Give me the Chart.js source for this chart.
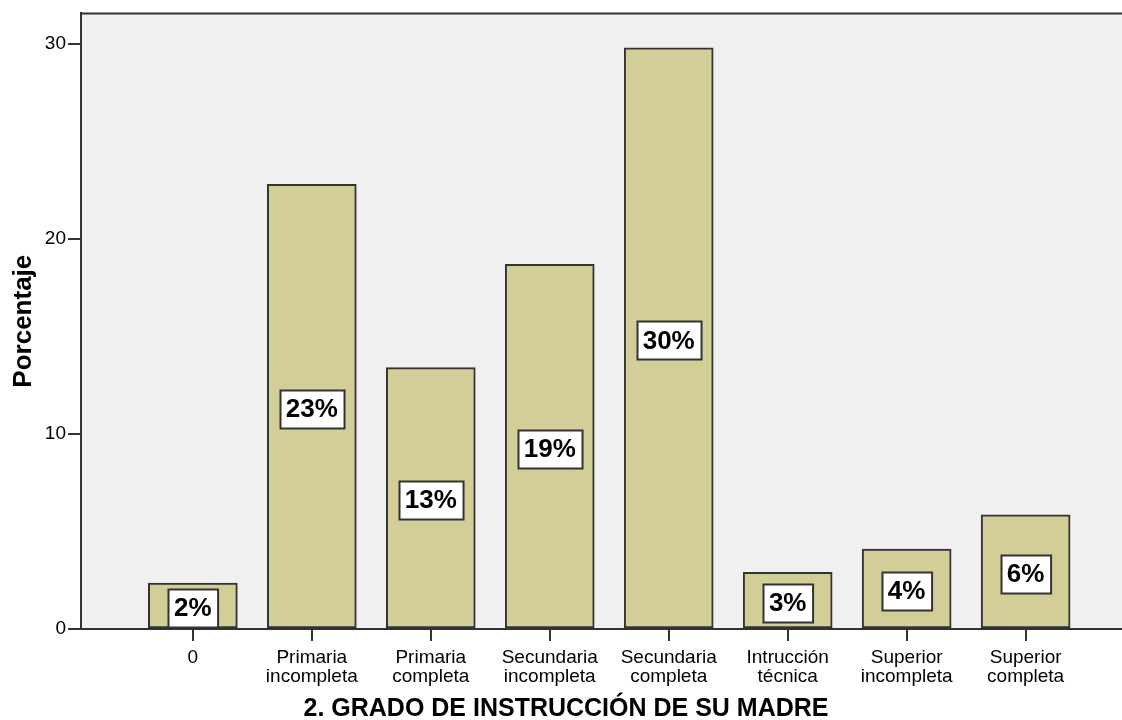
<!DOCTYPE html>
<html>
<head>
<meta charset="utf-8">
<script src="https://cdn.jsdelivr.net/npm/chart.js@4/dist/chart.umd.min.js"></script>
<style>
html,body{margin:0;padding:0;background:#fff;}
#wrap{width:1122px;height:720px;}
</style>
</head>
<body>
<div id="wrap"><canvas id="c" width="1122" height="720"></canvas></div>
<script>
const categories = [
  ["0"],
  ["Primaria", "incompleta"],
  ["Primaria", "completa"],
  ["Secundaria", "incompleta"],
  ["Secundaria", "completa"],
  ["Intrucción", "técnica"],
  ["Superior", "incompleta"],
  ["Superior", "completa"]
];
const percentValues = [2.36, 22.8, 13.4, 18.7, 29.8, 2.9, 4.1, 5.85];
const yTickValues = [0, 10, 20, 30];
const xTitle = "2. GRADO DE INSTRUCCIÓN DE SU MADRE";
const yTitle = "Porcentaje";

const FONT = "'Liberation Sans', Arial, sans-serif";

const bgPlugin = {
  id: 'bg',
  beforeDraw(chart) {
    const {ctx, chartArea: a} = chart;
    ctx.save();
    ctx.fillStyle = '#f0f0f0';
    ctx.fillRect(a.left, a.top, a.right - a.left, a.bottom - a.top);
    ctx.strokeStyle = '#333';
    ctx.lineWidth = 2;
    ctx.beginPath();
    ctx.moveTo(a.left - 1, a.top);
    ctx.lineTo(a.right, a.top);
    ctx.stroke();
    ctx.restore();
  },
  afterDraw(chart) {
    const {ctx} = chart;
    ctx.save();
    ctx.fillStyle = '#000';
    ctx.font = "bold 25px " + FONT;
    ctx.textAlign = 'center';
    ctx.textBaseline = 'alphabetic';
    ctx.fillText(xTitle, 566, 716);
    ctx.restore();
  }
};

const labelPlugin = {
  id: 'barLabels',
  afterDatasetsDraw(chart) {
    const {ctx} = chart;
    const meta = chart.getDatasetMeta(0);
    ctx.save();
    ctx.font = "bold 26px " + FONT;
    ctx.textAlign = 'center';
    ctx.textBaseline = 'middle';
    meta.data.forEach((bar, i) => {
      const txt = Math.round(percentValues[i]) + '%';
      const w = ctx.measureText(txt).width + 12;
      const h = 38;
      const cy = (bar.y + bar.base) / 2 + 2.5;
      const x0 = Math.round(bar.x - w / 2) + 0.5;
      const y0 = Math.round(cy - h / 2) + 0.5;
      ctx.fillStyle = '#ffffff';
      ctx.fillRect(x0, y0, w, h);
      ctx.strokeStyle = '#333';
      ctx.lineWidth = 2;
      ctx.strokeRect(x0, y0, w, h);
      ctx.fillStyle = '#000';
      ctx.fillText(txt, bar.x, cy + 1);
    });
    ctx.restore();
  }
};

new Chart(document.getElementById('c'), {
  type: 'bar',
  data: {
    datasets: [{
      data: percentValues.map((v, i) => ({x: i, y: v})),
      backgroundColor: 'rgb(211,206,151)',
      borderColor: '#333',
      borderWidth: 2,
      borderSkipped: false,
      barThickness: 89
    }]
  },
  options: {
    responsive: false,
    animation: false,
    devicePixelRatio: 1,
    layout: {padding: {top: 13, right: 0, left: 0, bottom: 0}},
    plugins: {legend: {display: false}, tooltip: {enabled: false}},
    scales: {
      x: {
        type: 'linear',
        min: -0.94,
        max: 7.81,
        offset: false,
        afterBuildTicks(scale) { scale.ticks = categories.map((c, i) => ({value: i})); },
        afterFit(scale) { scale.height = 91; },
        ticks: {
          callback: (v) => categories[v],
          color: '#000',
          font: {family: FONT, size: 19, lineHeight: 1.0},
          padding: 7,
          maxRotation: 0,
          autoSkip: false
        },
        grid: {display: true, offset: false, drawOnChartArea: false, drawTicks: true, tickLength: 12, color: '#333', lineWidth: 2},
        border: {display: true, color: '#333', width: 2},
        title: {display: false}
      },
      y: {
        min: 0,
        max: 31.56,
        afterBuildTicks(scale) { scale.ticks = yTickValues.map(v => ({value: v})); },
        afterFit(scale) { scale.width = 81; },
        ticks: {
          color: '#000',
          font: {family: FONT, size: 19},
          padding: 2
        },
        grid: {display: true, offset: false, drawOnChartArea: false, drawTicks: true, tickLength: 13, color: '#333', lineWidth: 2},
        border: {display: true, color: '#333', width: 2},
        title: {
          display: true,
          text: yTitle,
          color: '#000',
          font: {family: FONT, size: 26, weight: 'bold'},
          padding: {top: 8, bottom: 0}
        }
      }
    }
  },
  plugins: [bgPlugin, labelPlugin]
});
</script>
</body>
</html>
